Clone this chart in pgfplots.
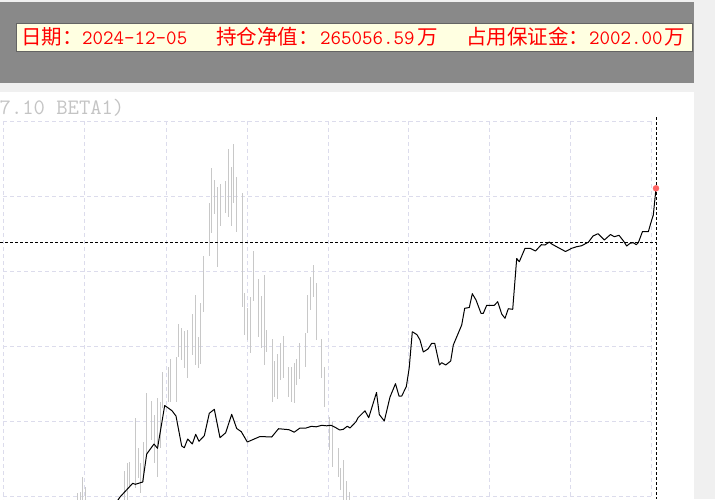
\documentclass[border=0pt]{standalone}
\usepackage{fontspec}
\usepackage{pgfplots}
\pgfplotsset{compat=1.18}
\newfontfamily\cjk{Noto Sans CJK SC}

\definecolor{bggray}{HTML}{F0F0F0}
\definecolor{bandgray}{HTML}{898989}
\definecolor{tipfill}{HTML}{FFFFE1}
\definecolor{tipline}{HTML}{646464}
\definecolor{gridc}{HTML}{DCDCEC}
\definecolor{barc}{HTML}{C8C8C8}
\definecolor{titlec}{HTML}{C4C4C4}
\definecolor{dotc}{HTML}{FF6464}

\begin{document}
\begin{tikzpicture}
\begin{axis}[
  name=ax,
  width=715pt, height=499pt, scale only axis,
  xmin=0, xmax=715, ymin=0, ymax=499,
  y dir=reverse,
  hide axis,
  unbounded coords=jump,
]
% frame: window background, header band, chart panel
\fill[bggray] (axis cs:0,0) rectangle (axis cs:715,499);
\fill[bandgray] (axis cs:0,2) rectangle (axis cs:694,83);
\fill[white] (axis cs:0,92) rectangle (axis cs:694,499);
\filldraw[fill=tipfill, draw=tipline, line width=1pt] (axis cs:16,23) rectangle (axis cs:692,51);

% dashed grid
\addplot[gridc, line width=1pt, dash pattern=on 4pt off 3pt] coordinates {
  (3,121)(3,499)(3,nan)
  (84,121)(84,499)(84,nan)
  (166,121)(166,499)(166,nan)
  (247,121)(247,499)(247,nan)
  (328,121)(328,499)(328,nan)
  (408,121)(408,499)(408,nan)
  (489,121)(489,499)(489,nan)
  (570,121)(570,499)(570,nan)
  (651,121)(651,499)(651,nan)
  (3,121)(651,121)(nan,121)
  (3,196)(651,196)(nan,196)
  (3,271)(651,271)(nan,271)
  (3,346)(651,346)(nan,346)
  (3,421)(651,421)(nan,421)
  (3,496)(651,496)(nan,496)
};

% grey high-low bars
\addplot[barc, line width=1pt] coordinates {
  (77.3,493)(77.3,500)(77.3,nan)
  (80,492)(80,500)(80,nan)
  (82.7,477)(82.7,500)(82.7,nan)
  (85.3,487)(85.3,500)(85.3,nan)
  (124.7,471)(124.7,500)(124.7,nan)
  (127,463)(127,500)(127,nan)
  (129.7,462)(129.7,488)(129.7,nan)
  (135.7,418)(135.7,488)(135.7,nan)
  (138.3,448)(138.3,478)(138.3,nan)
  (140.7,463)(140.7,493)(140.7,nan)
  (143.3,442)(143.3,482)(143.3,nan)
  (146.7,393)(146.7,453)(146.7,nan)
  (151.7,401)(151.7,440)(151.7,nan)
  (154.7,415)(154.7,463)(154.7,nan)
  (157.3,398)(157.3,477)(157.3,nan)
  (160,402)(160,448)(160,nan)
  (162.7,372)(162.7,408)(162.7,nan)
  (168.3,367)(168.3,402)(168.3,nan)
  (170.7,359)(170.7,402)(170.7,nan)
  (176,357)(176,402)(176,nan)
  (178.7,324)(178.7,357)(178.7,nan)
  (181.3,328)(181.3,360)(181.3,nan)
  (184,331)(184,368)(184,nan)
  (187.3,330)(187.3,378)(187.3,nan)
  (192.7,314)(192.7,355)(192.7,nan)
  (195.3,295)(195.3,365)(195.3,nan)
  (198.3,337)(198.3,368)(198.3,nan)
  (200.3,303)(200.3,364)(200.3,nan)
  (203.3,256)(203.3,312)(203.3,nan)
  (209.3,203)(209.3,256)(209.3,nan)
  (211.3,168)(211.3,233)(211.3,nan)
  (214.7,180)(214.7,214)(214.7,nan)
  (217.3,187)(217.3,267)(217.3,nan)
  (220,184)(220,226)(220,nan)
  (225.3,181)(225.3,213)(225.3,nan)
  (228.7,149)(228.7,217)(228.7,nan)
  (231.3,167)(231.3,226)(231.3,nan)
  (233.7,144)(233.7,203)(233.7,nan)
  (236.3,177)(236.3,232)(236.3,nan)
  (242.7,193)(242.7,307)(242.7,nan)
  (244.5,293)(244.5,335)(244.5,nan)
  (247.3,308)(247.3,340)(247.3,nan)
  (250.5,297)(250.5,353)(250.5,nan)
  (253.3,251)(253.3,301)(253.3,nan)
  (258.7,279)(258.7,337)(258.7,nan)
  (261.7,296)(261.7,348)(261.7,nan)
  (264.3,275)(264.3,365)(264.3,nan)
  (266.3,330)(266.3,352)(266.3,nan)
  (272.7,339)(272.7,402)(272.7,nan)
  (274.7,361)(274.7,397)(274.7,nan)
  (277.7,354)(277.7,399)(277.7,nan)
  (280.7,343)(280.7,380)(280.7,nan)
  (283.3,336)(283.3,378)(283.3,nan)
  (288.7,367)(288.7,397)(288.7,nan)
  (291.7,367)(291.7,402)(291.7,nan)
  (294,363)(294,403)(294,nan)
  (296.7,359)(296.7,385)(296.7,nan)
  (299.3,343)(299.3,379)(299.3,nan)
  (305.7,333)(305.7,367)(305.7,nan)
  (307.7,295)(307.7,333)(307.7,nan)
  (310.3,277)(310.3,310)(310.3,nan)
  (313.3,265)(313.3,297)(313.3,nan)
  (316.3,283)(316.3,340)(316.3,nan)
  (321.7,339)(321.7,378)(321.7,nan)
  (324.7,367)(324.7,407)(324.7,nan)
  (329.3,417)(329.3,450)(329.3,nan)
  (332,422)(332,467)(332,nan)
  (338.3,448)(338.3,477)(338.3,nan)
  (340,468)(340,490)(340,nan)
  (343.3,460)(343.3,500)(343.3,nan)
  (346.3,481)(346.3,500)(346.3,nan)
  (349,492)(349,500)
};

% net value curve
\addplot[black, line width=1pt, line join=round] coordinates {
  (116,503)(120,497)(132.7,483.3)(135.3,484.3)(142.7,482)(146.7,454)
  (154,444)(157.5,448.3)(164.7,405.5)(172,410.7)(176,416)(181.7,446)
  (184.3,447.7)(187.7,439)(192.3,444)(195.7,434.3)(199,441.3)(204.3,435.7)
  (209.3,413.3)(214.3,409.3)(220,437.7)(225.7,432.7)(231.7,414.3)(236.7,428.5)
  (241.3,431.7)(247.3,442)(260,436.5)(271.7,437)(278.5,428.7)(289,429.7)
  (294.2,432.2)(299.7,428.2)(305.5,428.2)(311.3,426.3)(316.3,426.8)(321.7,425.3)
  (326.7,425.8)(331,425.3)(335.5,427.5)(339.7,430)(343.3,429.3)(347.3,426.2)
  (350,428)(356,421.7)(358,417.7)(365,410.8)(368.7,417.7)(376.5,392.5)
  (379.3,414.5)(384.3,421)(390,397)(395.5,383.7)(399,396)(401.7,396)
  (406.3,386.7)(409.2,368)(412.3,331.7)(417,334.7)(420,340)(423.3,352)
  (428,349)(431.7,343.3)(434.7,343.3)(439.5,365)(441.7,362.7)(445.7,365)
  (450.7,361)(453.3,345)(461.7,325)(464.7,308.3)(469.3,307.5)(472.3,293.7)
  (476,300)(481,313.3)(483.3,313.3)(486.7,305.3)(494.3,305.3)(497.7,301.7)
  (501.7,314)(505,318.3)(508.3,308.7)(512.7,309.3)(516.7,258.5)(519.3,261.7)
  (525,248.3)(530,248.3)(535.5,251)(541.3,244.7)(545,245)(549.3,242)
  (551.7,244)(557.7,247.3)(565.5,251.5)(571.7,248.3)(576.7,246.7)(581.7,245.7)
  (586.7,243)(588.3,242.3)(593,236)(598,233.7)(604.3,240)(610.5,234.5)
  (614.3,236.7)(619,235.3)(623.5,241)(626.7,246)(630,243.3)(633.3,242.7)
  (636.3,244.7)(638.3,242.7)(642.5,231.5)(648.3,231.7)(651.7,220)(653.3,215)
  (656,188.3)
};

% crosshair
\addplot[black, line width=1pt, dash pattern=on 3pt off 2pt] coordinates {(0,242)(657,242)};
\addplot[black, line width=1pt, dash pattern=on 3pt off 2pt] coordinates {(656,117)(656,499)};
\addplot[only marks, mark=*, mark size=3pt, color=dotc] coordinates {(656,188.3)};

% cut-off chart title
\node[anchor=base west, inner sep=0pt, text=titlec, font=\ttfamily\fontsize{22}{26}\selectfont] at (axis cs:-0.5,114) {7.10 BETA1)};

% tooltip text
\node[anchor=base west, inner sep=0pt, text=red, font=\cjk\fontsize{20.5}{24}\selectfont] at (axis cs:21,44) {日期：};
\node[anchor=base west, inner sep=0pt, text=red, font=\ttfamily\fontsize{20.4}{24}\selectfont] at (axis cs:82,44) {2024-12-05};
\node[anchor=base west, inner sep=0pt, text=red, font=\cjk\fontsize{20.5}{24}\selectfont] at (axis cs:216,44) {持仓净值：};
\node[anchor=base west, inner sep=0pt, text=red, font=\ttfamily\fontsize{20.4}{24}\selectfont] at (axis cs:320,44) {265056.59};
\node[anchor=base west, inner sep=0pt, text=red, font=\cjk\fontsize{20.5}{24}\selectfont] at (axis cs:417,44) {万};
\node[anchor=base west, inner sep=0pt, text=red, font=\cjk\fontsize{20.5}{24}\selectfont] at (axis cs:466,44) {占用保证金：};
\node[anchor=base west, inner sep=0pt, text=red, font=\ttfamily\fontsize{20.4}{24}\selectfont] at (axis cs:589,44) {2002.00};
\node[anchor=base west, inner sep=0pt, text=red, font=\cjk\fontsize{20.5}{24}\selectfont] at (axis cs:664,44) {万};
\end{axis}
\pgfresetboundingbox
\path (ax.south west) rectangle (ax.north east);
\end{tikzpicture}
\end{document}
